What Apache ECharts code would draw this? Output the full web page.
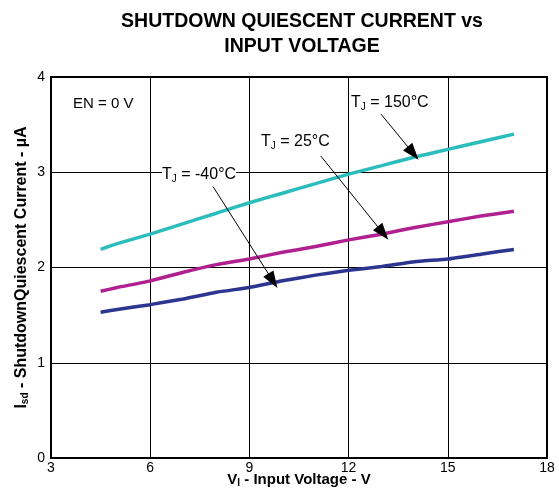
<!DOCTYPE html>
<html>
<head>
<meta charset="utf-8">
<script src="https://cdn.jsdelivr.net/npm/echarts@6/dist/echarts.min.js"></script>
<style>
  html, body { margin: 0; padding: 0; background: #fff; }
  #chart { width: 559px; height: 491px; }
</style>
</head>
<body>
<div id="chart"></div>
<script>
// input voltage (V)
const voltage = [4.5, 5, 6, 7, 8, 9, 10, 11, 12, 13, 14, 15, 16, 17];
// shutdown quiescent current (uA)
const tj150 = [2.19, 2.25, 2.35, 2.46, 2.57, 2.68, 2.78, 2.88, 2.98, 3.07, 3.16, 3.24, 3.32, 3.40];
const tj25  = [1.75, 1.79, 1.86, 1.95, 2.03, 2.09, 2.16, 2.22, 2.29, 2.35, 2.42, 2.48, 2.54, 2.59];
const tjM40 = [1.53, 1.56, 1.61, 1.67, 1.74, 1.79, 1.86, 1.92, 1.97, 2.01, 2.06, 2.09, 2.14, 2.19];
const xTicks = [3, 6, 9, 12, 15, 18];
const yTicks = [0, 1, 2, 3, 4];

const font = 'Liberation Sans, Arial, sans-serif';

function pairs(ys) {
  return voltage.map((v, i) => [v, ys[i]]);
}

// arrow from label to curve, in data units
function arrow(from, to) {
  return {
    silent: true,
    symbol: ['none', 'triangle'],
    symbolSize: [12, 17],
    label: { show: false },
    lineStyle: { color: '#000', width: 1, type: 'solid' },
    data: [[{ coord: from }, { coord: to }]]
  };
}

function line(name, ys, color, arr) {
  return {
    name: name,
    type: 'line',
    data: pairs(ys),
    showSymbol: false,
    smooth: 0.15,
    lineStyle: { color: color, width: 3.5 },
    itemStyle: { color: color },
    markLine: arr,
    z: 3
  };
}

function nameRich(size) {
  return {
    b: { fontFamily: font, fontSize: size, fontWeight: 'bold', color: '#000' },
    s: { fontFamily: font, fontSize: 10, fontWeight: 'bold', color: '#000', verticalAlign: 'bottom', padding: [7, 0, 0, 0] }
  };
}

const tjRich = {
  n: { font: '16px ' + font, fill: '#000' },
  s: { font: '10px ' + font, fill: '#000', padding: [8, 0, 0, 0] }
};

const chart = echarts.init(document.getElementById('chart'));
chart.setOption({
  animation: false,
  title: {
    text: 'SHUTDOWN QUIESCENT CURRENT vs\nINPUT VOLTAGE',
    left: 297,
    top: 4,
    textAlign: 'center',
    textStyle: { fontFamily: font, fontSize: 19.5, fontWeight: 'bold', color: '#000', lineHeight: 25 }
  },
  grid: {
    left: 51, right: 12, top: 77, bottom: 33,
    outerBoundsMode: 'none',
    show: true, borderColor: '#000', borderWidth: 2
  },
  xAxis: {
    type: 'value',
    min: xTicks[0], max: xTicks[xTicks.length - 1], interval: 3,
    name: '{b|V}{s|I}{b| - Input Voltage - V}',
    nameLocation: 'middle',
    nameMoveOverlap: false,
    nameGap: 13,
    nameTextStyle: { rich: nameRich(15) },
    axisLine: { lineStyle: { color: '#000', width: 2 } },
    axisTick: { show: false },
    axisLabel: { fontFamily: font, fontSize: 14, color: '#000', margin: 3 },
    splitLine: { lineStyle: { color: '#000', width: 1 } }
  },
  yAxis: {
    type: 'value',
    min: yTicks[0], max: yTicks[yTicks.length - 1], interval: 1,
    name: '{b|I}{s|sd}{b| - ShutdownQuiescent Current - µA}',
    nameLocation: 'middle',
    nameMoveOverlap: false,
    nameGap: 21,
    nameTextStyle: { rich: nameRich(16) },
    axisLine: { lineStyle: { color: '#000', width: 2 } },
    axisTick: { show: false },
    axisLabel: { fontFamily: font, fontSize: 14, color: '#000', margin: 6 },
    splitLine: { lineStyle: { color: '#000', width: 1 } }
  },
  graphic: [
    { type: 'text', left: 73, top: 96, z: 10,
      style: { text: 'EN = 0 V', font: '15px ' + font, fill: '#000' } },
    { type: 'text', left: 351, top: 94, z: 10,
      style: { text: '{n|T}{s|J}{n| = 150°C}', backgroundColor: '#fff', rich: tjRich } },
    { type: 'text', left: 261, top: 133, z: 10,
      style: { text: '{n|T}{s|J}{n| = 25°C}', backgroundColor: '#fff', rich: tjRich } },
    { type: 'text', left: 162, top: 166, z: 10,
      style: { text: '{n|T}{s|J}{n| = -40°C}', backgroundColor: '#fff', rich: tjRich } }
  ],
  series: [
    line('TJ = 150°C', tj150, '#2bbdbb', arrow([12.98, 3.61], [13.95, 3.2])),
    line('TJ = 25°C', tj25, '#b1208f', arrow([11.16, 3.17], [13.04, 2.36])),
    line('TJ = -40°C', tjM40, '#2c3590', arrow([7.9, 2.85], [9.71, 1.86]))
  ]
});
</script>
</body>
</html>
